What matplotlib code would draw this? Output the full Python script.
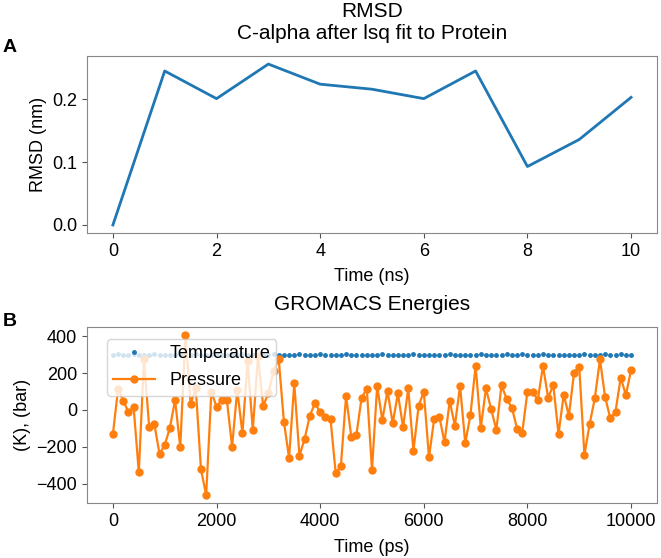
import numpy as np
import matplotlib
matplotlib.use('Agg')
import matplotlib.pyplot as plt

plt.rcParams['font.family'] = ['Liberation Sans', 'DejaVu Sans']
plt.rcParams['font.size'] = 13

## RMSD data (ns, nm)
rmsd_time = [0, 1, 2, 3, 4, 5, 6, 7, 8, 9, 10]
rmsd_vals = [0.0, 0.245, 0.201, 0.256, 0.224, 0.216, 0.201, 0.245, 0.093, 0.136, 0.203]

## energies, every 100 ps
energy_time = list(range(0, 10001, 100))
temperature = [300, 301, 299, 300, 302, 300, 299, 300, 301, 300,
               300, 299, 300, 301, 300, 300, 302, 299, 300, 300,
               301, 300, 299, 300, 300, 301, 300, 299, 300, 300,
               298, 301, 300, 300, 300, 299, 301, 300, 300, 297,
               302, 300, 300, 300, 299, 301, 300, 300, 300, 298,
               297, 300, 301, 300, 300, 300, 299, 300, 301, 300,
               300, 300, 300, 299, 300, 302, 300, 300, 300, 297,
               300, 301, 300, 300, 299, 300, 301, 300, 300, 302,
               300, 299, 300, 301, 300, 300, 300, 299, 300, 297,
               300, 301, 300, 299, 300, 302, 300, 300, 301, 300,
               300]
pressure = [-130, 113, 51, -12, 17, -337, 274, -92, -77, -238,
            -189, -97, 54, -200, 406, 35, 117, -322, -460, 99,
            18, 53, 53, -198, 108, -127, 265, -108, 290, 22,
            90, 209, 277, -63, -259, 144, -247, -157, -30, 36,
            -11, -36, -49, -342, -303, 76, -144, -133, 66, 115,
            -324, 130, -54, 104, -72, 90, -94, 117, -222, 22,
            99, -256, -49, -36, -175, 49, -85, 131, -180, -27,
            238, -96, 117, 4, -108, 135, 58, 13, -101, -122,
            99, 99, 54, 238, 67, 135, -130, 83, -31, 202,
            234, -243, -77, 63, 274, 69, -45, -9, 175, 81,
            216]

fig = plt.figure(figsize=(6.61, 5.58), dpi=100)
ax1 = fig.add_axes([0.1316, 0.5824, 0.8623, 0.3172])
ax2 = fig.add_axes([0.1316, 0.0986, 0.8623, 0.3154])

for ax in (ax1, ax2):
    for s in ax.spines.values():
        s.set_color('#888888')
    ax.tick_params(color='#555555', length=3.5, labelsize=13)

ax1.plot(rmsd_time, rmsd_vals, color='#1f77b4', lw=2)
ax1.set_xticks([0, 2, 4, 6, 8, 10])
ax1.set_yticks([0.0, 0.1, 0.2])
ax1.set_ylabel('RMSD (nm)')
ax1.set_xlabel('Time (ns)')
ax1.xaxis.set_label_coords(0.5, -0.2)
ax1.set_title('RMSD\nC-alpha after lsq fit to Protein', pad=12, fontsize=15)

ax2.plot(energy_time, temperature, '.', color='#1f77b4', ms=5, label='Temperature')
ax2.plot(energy_time, pressure, '-', marker='o', color='#ff7f0e', lw=1.6, ms=5, label='Pressure')
ax2.set_xticks([0, 2000, 4000, 6000, 8000, 10000])
ax2.set_yticks([-400, -200, 0, 200, 400])
ax2.set_ylabel('(K), (bar)')
ax2.set_xlabel('Time (ps)')
ax2.xaxis.set_label_coords(0.5, -0.205)
ax2.set_title('GROMACS Energies', pad=12, fontsize=15)
ax2.legend(loc='upper left', bbox_to_anchor=(20 / 570.0, 1 - 12 / 176.0), borderaxespad=0,
           framealpha=0.8, handlelength=2.3, borderpad=0.35, labelspacing=0.55)

fig.text(0.004, 1 - 47 / 558.0, 'A', fontsize=14, fontweight='bold', va='center')
fig.text(0.004, 1 - 322 / 558.0, 'B', fontsize=14, fontweight='bold', va='center')

fig.savefig('out.png', dpi=100)
